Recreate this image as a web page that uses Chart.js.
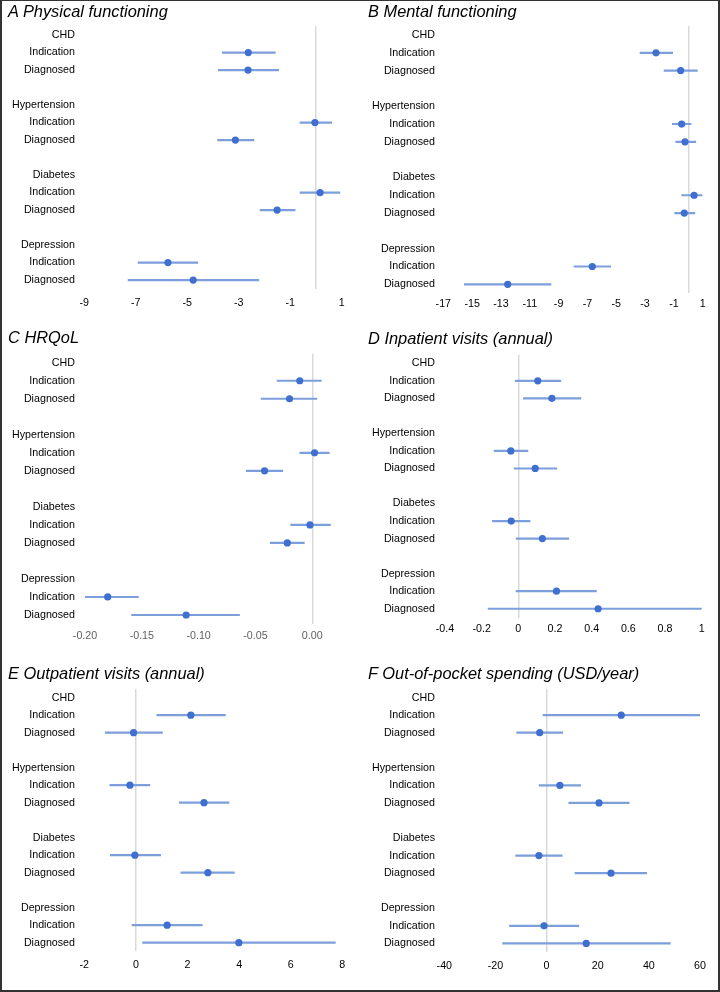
<!DOCTYPE html>
<html>
<head>
<meta charset="utf-8">
<script src="https://cdn.jsdelivr.net/npm/chart.js@4/dist/chart.umd.min.js"></script>
<style>
  body { margin: 0; background: #fff; }
  #page { position: relative; width: 720px; height: 992px; overflow: hidden; }
  .panel { position: absolute; width: 360px; }
  .panel canvas { position: absolute; left: 0; top: 0; }
  .title { position: absolute; left: 8px; font: italic 16.4px/1 "Liberation Sans", Arial, sans-serif; color: #000; white-space: nowrap; }
  #frame { position: absolute; left: 0; top: 0; width: 720px; height: 992px; box-sizing: border-box;
           border: 2px solid #333; border-top-width: 1px; pointer-events: none; }
</style>
</head>
<body>
<div id="page"></div>
<script>
const ROWS = ["CHD","Indication","Diagnosed","","Hypertension","Indication","Diagnosed","","Diabetes","Indication","Diagnosed","","Depression","Indication","Diagnosed"];

// order: CHD ind, CHD diag, Hyp ind, Hyp diag, Diab ind, Diab diag, Dep ind, Dep diag
const physEst = [-2.63, -2.64, -0.04, -3.13, 0.16, -1.51, -5.75, -4.77];
const physLo  = [-3.64, -3.79, -0.62, -3.82, -0.62, -2.17, -6.91, -7.30];
const physHi  = [-1.58, -1.45, 0.61, -2.41, 0.93, -0.81, -4.59, -2.22];
const physTicks = [-9, -7, -5, -3, -1, 1];

const mentEst = [-2.24, -0.53, -0.46, -0.23, 0.40, -0.28, -6.66, -12.53];
const mentLo  = [-3.35, -1.68, -1.11, -0.87, -0.46, -0.94, -7.93, -15.54];
const mentHi  = [-1.08, 0.63, 0.19, 0.52, 0.97, 0.45, -5.38, -9.53];
const mentTicks = [-17, -15, -13, -11, -9, -7, -5, -3, -1, 1];

const qolEst = [-0.011, -0.020, 0.002, -0.042, -0.002, -0.022, -0.180, -0.111];
const qolLo  = [-0.031, -0.045, -0.011, -0.058, -0.019, -0.037, -0.201, -0.159];
const qolHi  = [0.008, 0.004, 0.015, -0.026, 0.016, -0.007, -0.153, -0.064];
const qolTicks = [-0.2, -0.15, -0.1, -0.05, 0];

const inpEst = [0.106, 0.183, -0.041, 0.092, -0.039, 0.131, 0.208, 0.435];
const inpLo  = [-0.017, 0.028, -0.132, -0.023, -0.141, -0.012, -0.012, -0.165];
const inpHi  = [0.232, 0.341, 0.052, 0.210, 0.064, 0.275, 0.426, 1.0];
const inpTicks = [-0.4, -0.2, 0, 0.2, 0.4, 0.6, 0.8, 1];

const outEst = [2.13, -0.09, -0.23, 2.64, -0.04, 2.79, 1.21, 3.99];
const outLo  = [0.81, -1.19, -1.01, 1.68, -0.99, 1.74, -0.15, 0.26];
const outHi  = [3.47, 1.03, 0.54, 3.61, 0.96, 3.82, 2.57, 7.73];
const outTicks = [-2, 0, 2, 4, 6, 8];

const oopEst = [29.2, -2.7, 5.2, 20.5, -3.0, 25.2, -1.0, 15.5];
const oopLo  = [-1.4, -11.7, -2.9, 8.7, -12.1, 11.1, -14.5, -17.2];
const oopHi  = [59.9, 6.3, 13.3, 32.3, 6.1, 39.1, 12.6, 48.4];
const oopTicks = [-40, -20, 0, 20, 40, 60];

const DOT_COL = "#3f6fcf";
const BAR_COL = "#7c9fdb";
const ZERO_COL = "#d9d9d9";
const FONT = "'Liberation Sans', Arial, sans-serif";

const PANELS = [
  { title: "A Physical functioning", x: 0, y: 0, h: 330, est: physEst, lo: physLo, hi: physHi, ticks: physTicks,
    min: -9, max: 1, box: { l: 84.3, r: 341.7, t: 26.3, b: 288.8 }, tickPad: 8, titleBase: 16.7, tickColor: "#000" },
  { title: "B Mental functioning", x: 360, y: 0, h: 330, est: mentEst, lo: mentLo, hi: mentHi, ticks: mentTicks,
    min: -17, max: 1, box: { l: 83.3, r: 342.7, t: 26.1, b: 293.2 }, tickPad: 4, titleBase: 16.7, tickColor: "#000" },
  { title: "C HRQoL", x: 0, y: 330, h: 330, est: qolEst, lo: qolLo, hi: qolHi, ticks: qolTicks,
    min: -0.2, max: 0.02, box: { l: 85, r: 335, t: 23.7, b: 294 }, tickPad: 6, titleBase: 13.3, tickColor: "#5f5f5f",
    fmt: v => v.toFixed(2) },
  { title: "D Inpatient visits (annual)", x: 360, y: 330, h: 330, est: inpEst, lo: inpLo, hi: inpHi, ticks: inpTicks,
    min: -0.4, max: 1, box: { l: 85, r: 341.7, t: 24.5, b: 287.5 }, tickPad: 5, titleBase: 14, tickColor: "#000" },
  { title: "E Outpatient visits (annual)", x: 0, y: 660, h: 332, est: outEst, lo: outLo, hi: outHi, ticks: outTicks,
    min: -2, max: 8, box: { l: 84.3, r: 342.3, t: 28.9, b: 291.4 }, tickPad: 7, titleBase: 19, tickColor: "#000" },
  { title: "F Out-of-pocket spending (USD/year)", x: 360, y: 660, h: 332, est: oopEst, lo: oopLo, hi: oopHi, ticks: oopTicks,
    min: -40, max: 60, box: { l: 84.3, r: 340, t: 28.8, b: 292.2 }, tickPad: 7, titleBase: 19, tickColor: "#000" }
];

const isItem = r => r === "Indication" || r === "Diagnosed";

function spread(vals) {
  let k = 0;
  return ROWS.map(r => isItem(r) ? vals[k++] : null);
}
function spreadRange(lo, hi) {
  let k = 0;
  return ROWS.map(r => { if (!isItem(r)) return null; const v = [lo[k], hi[k]]; k++; return v; });
}

function makePanel(p) {
  const page = document.getElementById("page");
  const div = document.createElement("div");
  div.className = "panel";
  div.style.left = p.x + "px";
  div.style.top = p.y + "px";
  div.style.height = p.h + "px";
  const cv = document.createElement("canvas");
  cv.width = 360;
  cv.height = p.h;
  div.appendChild(cv);
  const t = document.createElement("div");
  t.className = "title";
  t.textContent = p.title;
  t.style.top = (p.titleBase - 13.9) + "px";
  div.appendChild(t);
  page.appendChild(div);

  const fmt = p.fmt || (v => String(v));
  const axisH = 24;

  new Chart(cv, {
    type: "bar",
    data: {
      labels: ROWS,
      datasets: [
        { type: "line", indexAxis: "y", data: spread(p.est), showLine: false,
          pointRadius: 3.6, pointHoverRadius: 3.6, pointBackgroundColor: DOT_COL, pointBorderWidth: 0, order: 0 },
        { type: "bar", indexAxis: "y", data: spreadRange(p.lo, p.hi), backgroundColor: BAR_COL,
          barThickness: 1.5, borderWidth: 0, order: 1 }
      ]
    },
    options: {
      indexAxis: "y",
      responsive: false,
      animation: false,
      layout: { padding: { left: 0, top: p.box.t, right: 360 - p.box.r, bottom: p.h - p.box.b - axisH } },
      plugins: { legend: { display: false }, tooltip: { enabled: false } },
      scales: {
        x: {
          type: "linear", min: p.min, max: p.max,
          afterBuildTicks: s => {
            const vals = p.ticks.includes(0) ? p.ticks.slice() : p.ticks.concat([0]);
            vals.sort((a, b) => a - b);
            s.ticks = vals.map(v => ({ value: v }));
          },
          afterFit: s => { s.height = axisH; },
          grid: { color: c => (c.tick && c.tick.value === 0) ? ZERO_COL : "rgba(0,0,0,0)", lineWidth: 1.5, drawTicks: false },
          border: { display: false },
          ticks: { autoSkip: false, maxRotation: 0, padding: p.tickPad, color: p.tickColor,
                   font: { family: FONT, size: 10.7 },
                   callback: v => p.ticks.includes(v) ? fmt(v) : "" }
        },
        y: {
          type: "category",
          afterFit: s => { s.width = p.box.l; },
          grid: { display: false, drawTicks: false },
          border: { display: false },
          ticks: { autoSkip: false, padding: p.box.l - 75, color: "#000", font: { family: FONT, size: 10.7 } }
        }
      }
    }
  });
}

PANELS.forEach(makePanel);

const frame = document.createElement("div");
frame.id = "frame";
document.getElementById("page").appendChild(frame);
</script>
</body>
</html>
